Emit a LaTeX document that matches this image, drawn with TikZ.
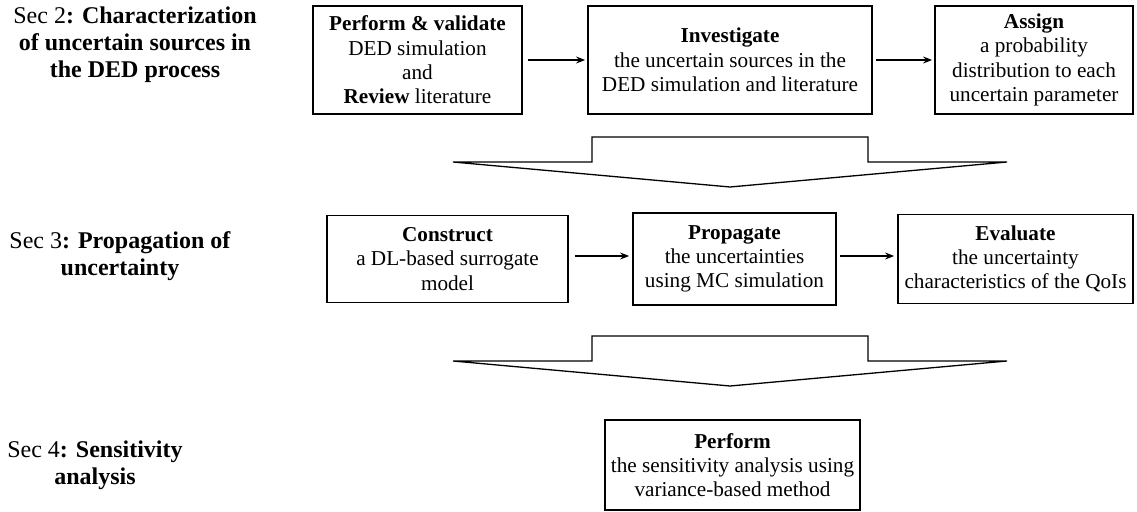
\documentclass[tikz,border=0pt]{standalone}
\usepackage{fontspec}
\setmainfont{Liberation Serif}
\usetikzlibrary{arrows.meta}
\tikzset{
  box/.style={draw, line width=1.8pt, rectangle, inner sep=0pt, align=center,
    font=\fontsize{21.2}{24.3}\selectfont},
  seclabel/.style={align=center, inner sep=0pt, font=\fontsize{24}{27}\selectfont},
  arr/.style={line width=1.2pt, -{Stealth[length=9pt,width=7pt]}},
  fat/.style={line width=1.3pt, line join=miter},
}
\begin{document}
\begin{tikzpicture}[x=1pt,y=-1pt]
\useasboundingbox (0,0) rectangle (1137,511);
% labels
\node[seclabel] (s2) at (135,45) {Sec 2\textbf{: Characterization}\\\textbf{of uncertain sources in}\\\textbf{the DED process}};
\node[seclabel] (s3) at (120,256) {Sec 3\textbf{: Propagation of}\\\textbf{uncertainty}};
\node[seclabel] (s4) at (95,465) {Sec 4\textbf{: Sensitivity}\\\textbf{analysis}};
% row 1
\node[box, minimum width=209pt, minimum height=108pt] (b1) at (417.5,60) {\textbf{Perform \& validate}\\DED simulation\\and\\\textbf{Review} literature};
\node[box, minimum width=284pt, minimum height=108pt] (b2) at (730,60) {\textbf{Investigate}\\the uncertain sources in the\\DED simulation and literature};
\node[box, minimum width=198pt, minimum height=108pt] (b3) at (1034,60) {\textbf{Assign}\\a probability\\distribution to each\\uncertain parameter};
\draw[arr, shorten <=5pt, shorten >=2pt] (b1.east) -- (b2.west);
\draw[arr, shorten <=3pt, shorten >=2pt] (b2.east) -- (b3.west);
% fat arrow 1
\draw[fat] (453,162) -- (592,162) -- (592,137) -- (868,137) -- (868,162) -- (1007,162) -- (730,187) -- cycle;
% row 2
\node[box, minimum width=241pt, minimum height=87pt] (c1) at (447.5,259) {\textbf{Construct}\\a DL-based surrogate\\model};
\node[box, minimum width=203pt, minimum height=92pt] (c2) at (734.5,259) {\textbf{Propagate}\\the uncertainties\\using MC simulation};
\node[box, minimum width=235pt, minimum height=89pt] (c3) at (1015.5,259) {\textbf{Evaluate}\\the uncertainty\\characteristics of the QoIs};
\draw[arr, shorten <=6pt, shorten >=3pt] ([yshift=3pt]c1.east) -- ([yshift=3pt]c1.east -| c2.west);
\draw[arr, shorten <=3pt, shorten >=3pt] ([yshift=3pt]c2.east) -- ([yshift=3pt]c2.east -| c3.west);
% fat arrow 2
\draw[fat] (453,361) -- (592,361) -- (592,336) -- (868,336) -- (868,361) -- (1007,361) -- (730,386) -- cycle;
% row 3
\node[box, minimum width=255pt, minimum height=90pt] (p) at (732.5,465) {\textbf{Perform}\\the sensitivity analysis using\\variance-based method};
\end{tikzpicture}
\end{document}
